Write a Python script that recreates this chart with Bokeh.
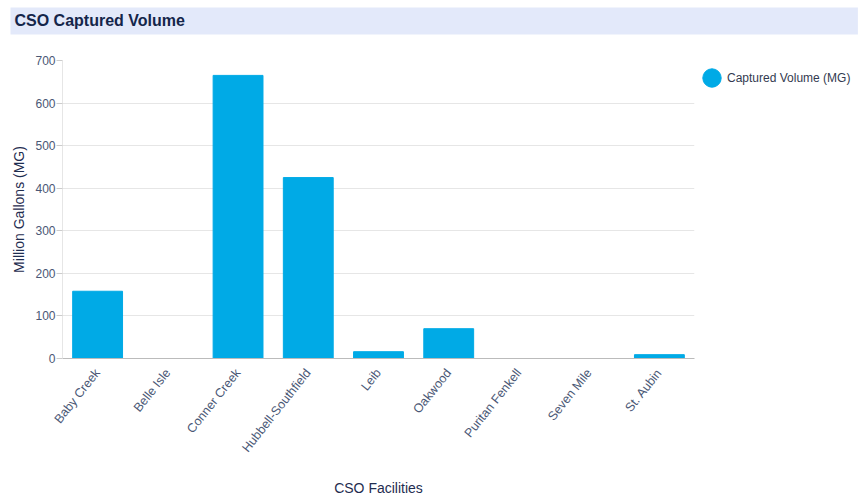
from bokeh.plotting import figure
from bokeh.models import ColumnDataSource, Legend, LegendItem, Title, Range1d, FixedTicker
from bokeh.embed import file_html
from bokeh.resources import INLINE

facilities = ["Baby Creek", "Belle Isle", "Conner Creek", "Hubbell-Southfield", "Leib",
              "Oakwood", "Puritan Fenkell", "Seven Mile", "St. Aubin"]
volumes = [158, 0, 665, 425, 16, 70, 0, 0, 9]
y_ticks = [0, 100, 200, 300, 400, 500, 600, 700]
series_name = "Captured Volume (MG)"
chart_title = "CSO Captured Volume"

BAR = "#00aae6"
TXT = "#4a5775"
HEAD_BG = "#e3e9fa"

src = ColumnDataSource(dict(x=facilities, y=volumes))

p = figure(x_range=facilities, y_range=Range1d(0, 700), frame_width=632, frame_height=298,
           output_backend="svg", toolbar_location=None, title=None,
           min_border_left=62, min_border_right=0, min_border_top=60, min_border_bottom=0)

# spacer between the header bar and the plot area (closest to the frame)
spacer = Title(text=" ", text_font_size="1px", standoff=14)
p.add_layout(spacer, "above")
header = Title(text=chart_title, text_font="Arial", text_font_size="16px",
               text_font_style="bold", text_color="#14254a", align="left",
               vertical_align="top",
               background_fill_color=HEAD_BG, padding=(4, 673, 4, 6),
               offset=-52, standoff=14)
p.add_layout(header, "above")

r = p.vbar(x="x", top="y", width=0.71, source=src, color=BAR, line_color=BAR)
# legend swatch (a circle): one ellipse with no y value so that nothing is drawn in the plot
lg_src = ColumnDataSource(dict(x=[facilities[0]], y=[float("nan")]))
swatch = p.ellipse(x="x", y="y", width=18, height=18, width_units="screen",
                   height_units="screen", source=lg_src, color=BAR)

p.xgrid.grid_line_color = None
p.ygrid.grid_line_color = "#e6e6e6"
p.yaxis.ticker = FixedTicker(ticks=y_ticks)
p.outline_line_color = None

p.yaxis.axis_line_color = "#e6e6e6"
p.yaxis.major_tick_line_color = "#cccccc"
p.yaxis.major_tick_in = 0
p.yaxis.major_tick_out = 6
p.yaxis.minor_tick_line_color = None
p.yaxis.major_label_text_font = "Arial"
p.yaxis.major_label_text_font_size = "12px"
p.yaxis.major_label_text_color = TXT
p.yaxis.major_label_standoff = 1
p.yaxis.axis_label = "Million Gallons (MG)"
p.yaxis.axis_label_text_font = "Arial"
p.yaxis.axis_label_text_font_size = "14px"
p.yaxis.axis_label_text_font_style = "normal"
p.yaxis.axis_label_text_color = "#1f2d50"
p.yaxis.axis_label_standoff = 5

p.xaxis.axis_line_color = "#bbbbbb"
p.xaxis.major_tick_line_color = None
p.xaxis.major_label_orientation = 0.9
p.xaxis.major_label_text_font = "Arial"
p.xaxis.major_label_text_font_size = "12.5px"
p.xaxis.major_label_text_color = TXT
p.xaxis.major_label_standoff = 6
p.xaxis.axis_label = "CSO Facilities"
p.xaxis.axis_label_text_font = "Arial"
p.xaxis.axis_label_text_font_size = "14px"
p.xaxis.axis_label_text_font_style = "normal"
p.xaxis.axis_label_text_color = "#1f2d50"
p.xaxis.axis_label_standoff = 18

legend = Legend(items=[LegendItem(label=series_name, renderers=[swatch])],
                location="top_left", border_line_color=None, background_fill_alpha=0,
                label_text_font="Arial", label_text_font_size="12px", label_text_color="#333a50",
                glyph_width=23, glyph_height=23, padding=0, margin=6, label_standoff=4)
p.add_layout(legend, "right")

open("out.html", "w").write(file_html(p, INLINE))
